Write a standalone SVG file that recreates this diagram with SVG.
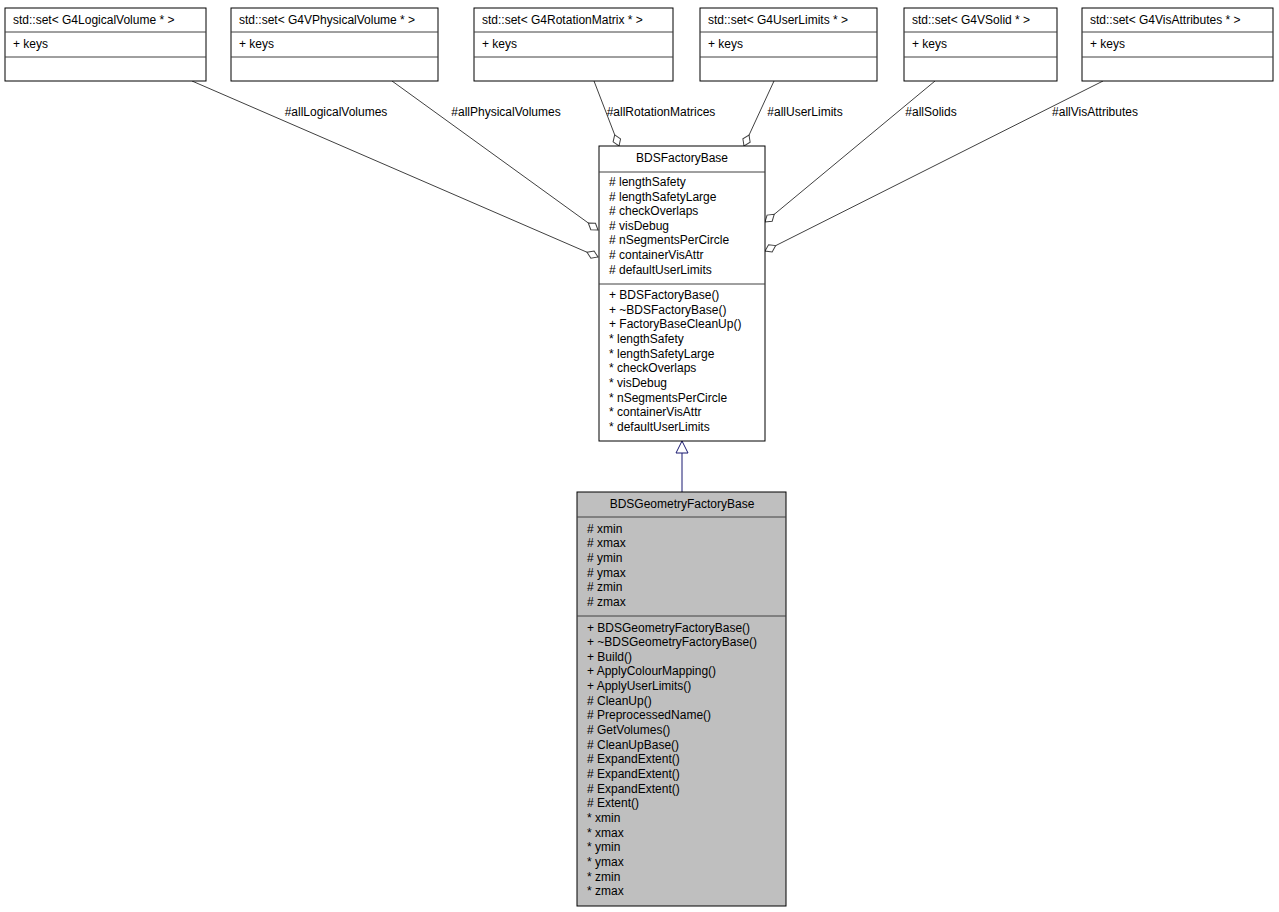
<svg xmlns="http://www.w3.org/2000/svg" width="1279" height="912" viewBox="0 0 1279 912">
<style>
text{font-family:"Liberation Sans",Arial,sans-serif;font-size:12px;fill:#000}
.c{text-anchor:middle}
.b{fill:#fff;stroke:#000;stroke-width:1}
.g{fill:#bfbfbf;stroke:#000;stroke-width:1}
.e{stroke:#404040;stroke-width:1;fill:none}
</style>
<defs>
<marker id="dm" markerUnits="userSpaceOnUse" markerWidth="14" markerHeight="10" refX="12" refY="4" orient="auto" viewBox="-1 -1 14 10"><path d="M0,4 L6,0 L12,4 L6,8 Z" fill="#fff" stroke="#404040"/></marker>
<marker id="tr" markerUnits="userSpaceOnUse" markerWidth="14" markerHeight="14" refX="12" refY="6" orient="auto" viewBox="-1 -1 14 14"><path d="M0,0 L12,6 L0,12 Z" fill="#fff" stroke="#191970"/></marker>
</defs>
<rect width="1279" height="912" fill="#fff"/>
<g id="edges">
<path class="e" d="M192,81 L598,257" marker-end="url(#dm)"/>
<path class="e" d="M392,81 L598,230" marker-end="url(#dm)"/>
<path class="e" d="M594,81 L619,146" marker-end="url(#dm)"/>
<path class="e" d="M774,81 L744,146" marker-end="url(#dm)"/>
<path class="e" d="M935,81 L765,222" marker-end="url(#dm)"/>
<path class="e" d="M1103,81 L765,251" marker-end="url(#dm)"/>
<path d="M682,492 L682,441" stroke="#191970" fill="none" marker-end="url(#tr)"/>
<text class="c" x="336" y="116">#allLogicalVolumes</text>
<text class="c" x="506" y="116">#allPhysicalVolumes</text>
<text class="c" x="661" y="116">#allRotationMatrices</text>
<text class="c" x="805" y="116">#allUserLimits</text>
<text class="c" x="931" y="116">#allSolids</text>
<text class="c" x="1095" y="116">#allVisAttributes</text>
</g>
<g id="n1"><rect class="b" x="5" y="8" width="201" height="73"/><path class="e" stroke="#000" d="M5,32H206M5,57H206"/><text x="13" y="24">std::set&lt; G4LogicalVolume * &gt;</text><text x="13" y="48">+ keys</text></g>
<g id="n2"><rect class="b" x="231" y="8" width="207" height="73"/><path class="e" stroke="#000" d="M231,32H438M231,57H438"/><text x="239" y="24">std::set&lt; G4VPhysicalVolume * &gt;</text><text x="239" y="48">+ keys</text></g>
<g id="n3"><rect class="b" x="474" y="8" width="199" height="73"/><path class="e" stroke="#000" d="M474,32H673M474,57H673"/><text x="482" y="24">std::set&lt; G4RotationMatrix * &gt;</text><text x="482" y="48">+ keys</text></g>
<g id="n4"><rect class="b" x="700" y="8" width="177" height="73"/><path class="e" stroke="#000" d="M700,32H877M700,57H877"/><text x="708" y="24">std::set&lt; G4UserLimits * &gt;</text><text x="708" y="48">+ keys</text></g>
<g id="n5"><rect class="b" x="904" y="8" width="153" height="73"/><path class="e" stroke="#000" d="M904,32H1057M904,57H1057"/><text x="912" y="24">std::set&lt; G4VSolid * &gt;</text><text x="912" y="48">+ keys</text></g>
<g id="n6"><rect class="b" x="1082" y="8" width="191" height="73"/><path class="e" stroke="#000" d="M1082,32H1273M1082,57H1273"/><text x="1090" y="24">std::set&lt; G4VisAttributes * &gt;</text><text x="1090" y="48">+ keys</text></g>
<g id="fb"><rect class="b" x="599" y="146" width="166" height="295"/><path class="e" stroke="#000" d="M599,172H765M599,284H765"/>
<text class="c" x="682" y="162">BDSFactoryBase</text>
<text x="609" y="186"># lengthSafety</text><text x="609" y="201"># lengthSafetyLarge</text><text x="609" y="215"># checkOverlaps</text><text x="609" y="230"># visDebug</text><text x="609" y="244"># nSegmentsPerCircle</text><text x="609" y="259"># containerVisAttr</text><text x="609" y="274"># defaultUserLimits</text>
<text x="609" y="299">+ BDSFactoryBase()</text><text x="609" y="314">+ ~BDSFactoryBase()</text><text x="609" y="328">+ FactoryBaseCleanUp()</text><text x="609" y="343">* lengthSafety</text><text x="609" y="358">* lengthSafetyLarge</text><text x="609" y="372">* checkOverlaps</text><text x="609" y="387">* visDebug</text><text x="609" y="402">* nSegmentsPerCircle</text><text x="609" y="416">* containerVisAttr</text><text x="609" y="431">* defaultUserLimits</text>
</g>
<g id="gfb"><rect class="g" x="577" y="492" width="209" height="414"/><path class="e" stroke="#000" d="M577,517H786M577,616H786"/>
<text class="c" x="682" y="508">BDSGeometryFactoryBase</text>
<text x="587" y="533"># xmin</text><text x="587" y="547"># xmax</text><text x="587" y="562"># ymin</text><text x="587" y="577"># ymax</text><text x="587" y="591"># zmin</text><text x="587" y="606"># zmax</text>
<text x="587" y="632">+ BDSGeometryFactoryBase()</text><text x="587" y="646">+ ~BDSGeometryFactoryBase()</text><text x="587" y="661">+ Build()</text><text x="587" y="675">+ ApplyColourMapping()</text><text x="587" y="690">+ ApplyUserLimits()</text><text x="587" y="705"># CleanUp()</text><text x="587" y="719"># PreprocessedName()</text><text x="587" y="734"># GetVolumes()</text><text x="587" y="749"># CleanUpBase()</text><text x="587" y="763"># ExpandExtent()</text><text x="587" y="778"># ExpandExtent()</text><text x="587" y="793"># ExpandExtent()</text><text x="587" y="807"># Extent()</text><text x="587" y="822">* xmin</text><text x="587" y="837">* xmax</text><text x="587" y="851">* ymin</text><text x="587" y="866">* ymax</text><text x="587" y="881">* zmin</text><text x="587" y="895">* zmax</text>
</g>
</svg>
